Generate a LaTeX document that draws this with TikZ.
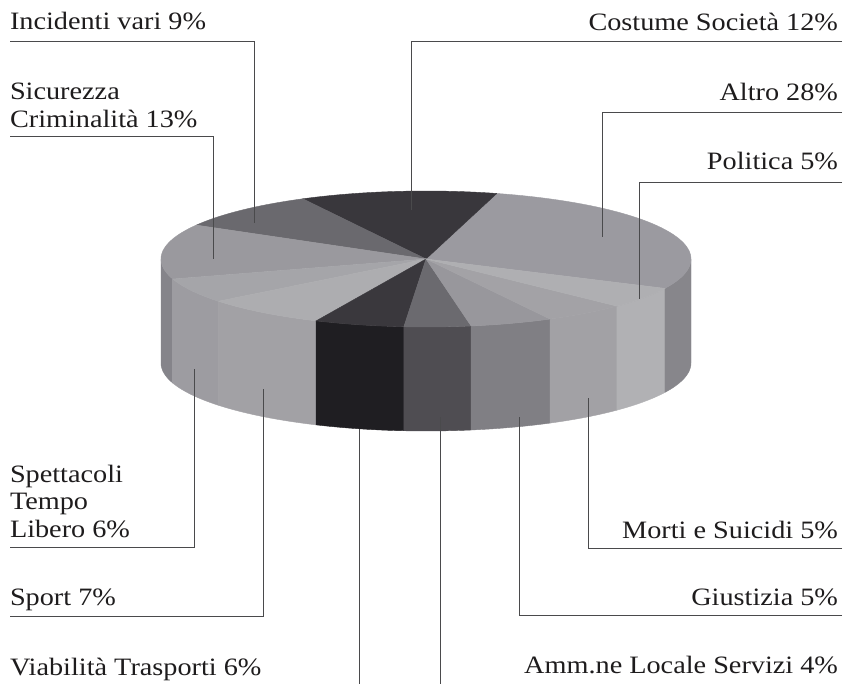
\documentclass[tikz,border=0pt]{standalone}
\usepackage{fontspec}
\setmainfont{Liberation Serif}[FakeStretch=1.13]
\definecolor{tAltro}{HTML}{9B9AA0}
\definecolor{tCost}{HTML}{39373C}
\definecolor{tInc}{HTML}{6A696E}
\definecolor{tSic}{HTML}{9A999E}
\definecolor{tSpet}{HTML}{A5A5A9}
\definecolor{tSport}{HTML}{ADADB0}
\definecolor{tViab}{HTML}{3A383D}
\definecolor{tAmm}{HTML}{6B6A6F}
\definecolor{tGiu}{HTML}{98979C}
\definecolor{tMor}{HTML}{A3A2A6}
\definecolor{tPol}{HTML}{AFAFB2}
\definecolor{sSic}{HTML}{85848A}
\definecolor{sSpet}{HTML}{9D9CA1}
\definecolor{sSport}{HTML}{A2A1A5}
\definecolor{sViab}{HTML}{1F1E22}
\definecolor{sAmm}{HTML}{4F4D52}
\definecolor{sGiu}{HTML}{807F84}
\definecolor{sMor}{HTML}{A2A1A5}
\definecolor{sPol}{HTML}{B1B1B4}
\definecolor{sAltro}{HTML}{87868B}
\definecolor{leadc}{HTML}{4A4A4C}
\definecolor{txtc}{HTML}{1E1C1D}
\def\pcx{426}
\def\pcy{259}
\def\prx{265}
\def\pry{68}
\def\pieh{104}
\newcommand\topslice[3]{\fill[fill=#3,draw=#3,line width=0.4pt] (\pcx,\pcy) -- plot[domain=#1:#2,samples=50] ({\pcx+\prx*cos(\x)},{\pcy-\pry*sin(\x)}) -- cycle;}
\newcommand\sideslice[3]{\fill[fill=#3,draw=#3,line width=0.4pt] plot[domain=#1:#2,samples=30] ({\pcx+\prx*cos(\x)},{\pcy-\pry*sin(\x)}) -- plot[domain=#2:#1,samples=30] ({\pcx+\prx*cos(\x)},{\pcy+\pieh-\pry*sin(\x)}) -- cycle;}
\begin{document}
\begin{tikzpicture}[x=1pt,y=-1pt,
  lead/.style={draw=leadc,line width=1pt},
  lbl/.style={inner sep=0pt,outer sep=0pt,text=txtc,font=\fontsize{25}{27.5}\selectfont},
  lblL/.style={lbl,anchor=base west},
  lblR/.style={lbl,anchor=base east}]
\useasboundingbox (0,0) rectangle (844,684);
\fill[white] (0,0) rectangle (844,684);
% side faces
\sideslice{180}{197.1}{sSic}
\sideslice{197.1}{218.4}{sSpet}
\sideslice{218.4}{245.5}{sSport}
\sideslice{245.5}{265.2}{sViab}
\sideslice{265.2}{279.8}{sAmm}
\sideslice{279.8}{297.9}{sGiu}
\sideslice{297.9}{316.1}{sMor}
\sideslice{316.1}{334.4}{sPol}
\sideslice{334.4}{360}{sAltro}
% top faces
\topslice{-25.6}{74.5}{tAltro}
\topslice{74.5}{117.7}{tCost}
\topslice{117.7}{150.1}{tInc}
\topslice{150.1}{197.1}{tSic}
\topslice{197.1}{218.4}{tSpet}
\topslice{218.4}{245.5}{tSport}
\topslice{245.5}{265.2}{tViab}
\topslice{265.2}{279.8}{tAmm}
\topslice{279.8}{297.9}{tGiu}
\topslice{297.9}{316.1}{tMor}
\topslice{316.1}{334.4}{tPol}
% labels
\node[lblL] (inc) at (10,29.5) {Incidenti vari 9\%};
\node[lblL] (sic1) at (10,100) {Sicurezza};
\node[lblL] (sic2) at (10,128) {Criminalità 13\%};
\node[lblL] (spe1) at (10,483) {Spettacoli};
\node[lblL] (spe2) at (10,510) {Tempo};
\node[lblL] (spe3) at (10,537) {Libero 6\%};
\node[lblL] (spo) at (10,605.7) {Sport 7\%};
\node[lblL] (via) at (10,675) {Viabilità Trasporti 6\%};
\node[lblR] (cos) at (838,30.5) {Costume Società 12\%};
\node[lblR] (alt) at (838,101) {Altro 28\%};
\node[lblR] (pol) at (838,170) {Politica 5\%};
\node[lblR] (mor) at (838,538.3) {Morti e Suicidi 5\%};
\node[lblR] (giu) at (838,605.7) {Giustizia 5\%};
\node[lblR] (amm) at (838,673.3) {Amm.ne Locale Servizi 4\%};
% leader coordinates
\coordinate (incL) at (10,42);       \coordinate (incP) at (254.5,223);
\coordinate (sicL) at (10,137);      \coordinate (sicP) at (213.5,259);
\coordinate (speL) at (10,547.3);    \coordinate (speP) at (194,369);
\coordinate (spoL) at (10,616);      \coordinate (spoP) at (263,389);
\coordinate (viaB) at (359,684);     \coordinate (viaP) at (359,429);
\coordinate (ammB) at (440,684);     \coordinate (ammP) at (440,417);
\coordinate (cosR) at (842,42);      \coordinate (cosP) at (411.5,210);
\coordinate (altR) at (842,112.7);   \coordinate (altP) at (602,237);
\coordinate (polR) at (842,182.3);   \coordinate (polP) at (639,299);
\coordinate (morR) at (842,548.7);   \coordinate (morP) at (588,398);
\coordinate (giuR) at (842,615.7);   \coordinate (giuP) at (519,417);
% leader lines
\draw[lead] (incL) -| (incP);
\draw[lead] (sicL) -| (sicP);
\draw[lead] (speL) -| (speP);
\draw[lead] (spoL) -| (spoP);
\draw[lead] (viaB) -- (viaP);
\draw[lead] (ammB) -- (ammP);
\draw[lead] (cosR) -| (cosP);
\draw[lead] (altR) -| (altP);
\draw[lead] (polR) -| (polP);
\draw[lead] (morR) -| (morP);
\draw[lead] (giuR) -| (giuP);
\end{tikzpicture}
\end{document}
